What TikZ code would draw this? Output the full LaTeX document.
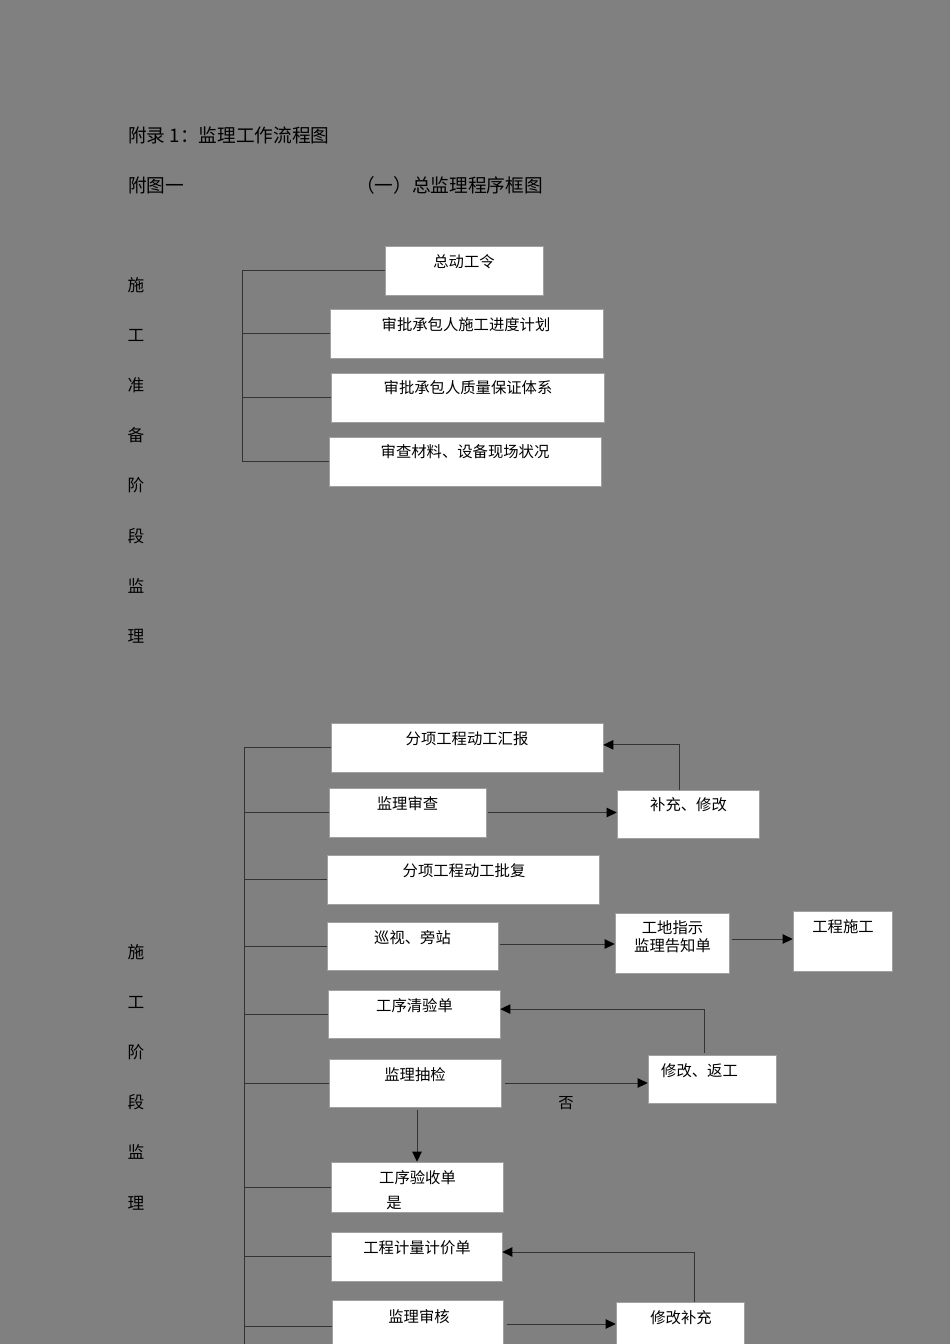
\documentclass[tikz,border=0pt]{standalone}
\usepackage{fontspec}
\setmainfont{Noto Sans CJK SC}
\usetikzlibrary{fit,arrows.meta}
\definecolor{bg}{HTML}{808080}
\definecolor{ink}{HTML}{000000}
\definecolor{lc}{HTML}{333333}
\definecolor{boxb}{HTML}{A0A0A0}
\begin{document}
\begin{tikzpicture}[x=0.75pt,y=-0.75pt,
  box/.style={draw=boxb, fill=white, inner sep=0pt, line width=0.4pt},
  txt/.style={text=ink, font=\fontsize{11.5}{13}\selectfont, inner sep=0pt},
  ttl/.style={text=ink, font=\fontsize{14}{16}\selectfont, inner sep=0pt, anchor=west},
  side/.style={text=ink, font=\fontsize{12.5}{14}\selectfont, inner sep=0pt},
  ln/.style={draw=lc, line width=0.7pt},
  arr/.style={ln, -{Triangle[length=7.5pt,width=7pt,fill=black,color=black]}}]
\useasboundingbox (0,0) rectangle (950,1344);
\clip (0,0) rectangle (950,1344);
\fill[bg] (0,0) rectangle (950,1344);

% titles
\node[ttl] (t1) at (128,135) {附录 1：监理工作流程图};
\node[ttl] (t2) at (128,185) {附图一};
\node[ttl] (t3) at (356,185) {（一）总监理程序框图};

% side labels, part 1
\foreach \c/\yy [count=\i] in {施/285,工/335,准/385,备/435,阶/485,段/536,监/586,理/636}
  \node[side] (sa\i) at (136,\yy) {\c};
% side labels, part 2
\foreach \c/\yy [count=\i] in {施/952,工/1002,阶/1052,段/1102,监/1152,理/1203}
  \node[side] (sb\i) at (136,\yy) {\c};

% ---- part 1 boxes
\node[box, fit={(385,246) (543,295)}] (zdgl) {};
\node[box, fit={(330,309) (603,358)}] (jdjh) {};
\node[box, fit={(331,373) (604,422)}] (zltx) {};
\node[box, fit={(329,437) (601,486)}] (clzk) {};
\node[txt] (zdglt) at (464,262) {总动工令};
\node[txt] (jdjht) at (466,325) {审批承包人施工进度计划};
\node[txt] (zltxt) at (468,388) {审批承包人质量保证体系};
\node[txt] (clzkt) at (465,452) {审查材料、设备现场状况};

\coordinate (s1) at (242,0);
\draw[ln] (zdgl.west) -- (zdgl.west -| s1) -- (clzk.west -| s1) -- (clzk.west);
\draw[ln] (jdjh.west) -- (jdjh.west -| s1);
\draw[ln] (zltx.west) -- (zltx.west -| s1);

% ---- part 2 boxes
\node[box, fit={(331,723) (603,772)}] (fxhb) {};
\node[box, fit={(329,788) (486,837)}] (jlsc) {};
\node[box, fit={(617,790) (759,838)}] (bcxg) {};
\node[box, fit={(327,855) (599,904)}] (fxpf) {};
\node[box, fit={(327,922) (498,970)}] (xspz) {};
\node[box, fit={(615,913) (729,973)}] (gdzs) {};
\node[box, fit={(793,911) (892,971)}] (gcsg) {};
\node[box, fit={(328,990) (500,1038)}] (gxqy) {};
\node[box, fit={(329,1059) (501,1107)}] (jlcj) {};
\node[box, fit={(648,1055) (776,1103)}] (xgfg) {};
\node[box, fit={(331,1162) (503,1212)}] (gxys) {};
\node[box, fit={(331,1232) (502,1281)}] (jljj) {};
\node[box, fit={(332,1300) (503,1352)}] (jlsh) {};
\node[box, fit={(616,1302) (744,1352)}] (xgbc) {};

\node[txt] (fxhbt) at (467,739) {分项工程动工汇报};
\node[txt] (jlsct) at (407.5,804) {监理审查};
\node[txt] (bcxgt) at (688.5,805) {补充、修改};
\node[txt] (fxpft) at (464,871) {分项工程动工批复};
\node[txt] (xspzt) at (412.5,938) {巡视、旁站};
\node[txt, align=center, font=\fontsize{11.5}{13.5}\selectfont] (gdzst) at (672.5,937) {工地指示\\监理告知单};
\node[txt] (gcsgt) at (843,927) {工程施工};
\node[txt] (gxqyt) at (414.5,1006) {工序清验单};
\node[txt] (jlcjt) at (415,1075) {监理抽检};
\node[txt] (xgfgt) at (699.5,1071) {修改、返工};
\node[txt] (fou) at (566,1103) {否};
\node[txt] (gxyst) at (417.5,1178) {工序验收单};
\node[txt] (shi) at (394,1203) {是};
\node[txt] (jljjt) at (417,1248) {工程计量计价单};
\node[txt] (jlsht) at (419,1317) {监理审核};
\node[txt] (xgbct) at (681,1318) {修改补充};

% spine part 2
\coordinate (s2) at (244,0);
\coordinate (s2end) at (244,1360);
\draw[ln] (fxhb.west) -- (fxhb.west -| s2) -- (s2end);
\foreach \b in {jlsc,fxpf,xspz,gxqy,jlcj,gxys,jljj,jlsh}
  \draw[ln] (\b.west) -- (\b.west -| s2);

% arrows part 2
\draw[arr] ([xshift=-6.4pt]bcxg.north) |- ([yshift=2pt]fxhb.east);
\draw[arr, shorten <=1.5pt] (jlsc.east) -- (jlsc.east -| bcxg.west);
\draw[arr, shorten <=1.5pt] ([yshift=1.5pt]xspz.east) -- ([yshift=1.5pt]xspz.east -| gdzs.west);
\draw[arr, shorten <=2pt] ([yshift=3pt]gdzs.east) -- ([yshift=3pt]gdzs.east -| gcsg.west);
\draw[arr] ([xshift=-6pt,yshift=1.5pt]xgfg.north) |- ([yshift=3.7pt]gxqy.east);
\draw[arr, shorten <=3pt] (jlcj.east) -- (jlcj.east -| xgfg.west);
\draw[arr, shorten <=2pt] (gxys.north |- jlcj.south) -- (gxys.north);
\draw[arr] ([xshift=10.5pt]xgbc.north) |- ([yshift=3.4pt]jljj.east);
\draw[arr, shorten <=3pt] ([yshift=1.5pt]jlsh.east) -- ([yshift=1.5pt]jlsh.east -| xgbc.west);
\end{tikzpicture}
\end{document}
